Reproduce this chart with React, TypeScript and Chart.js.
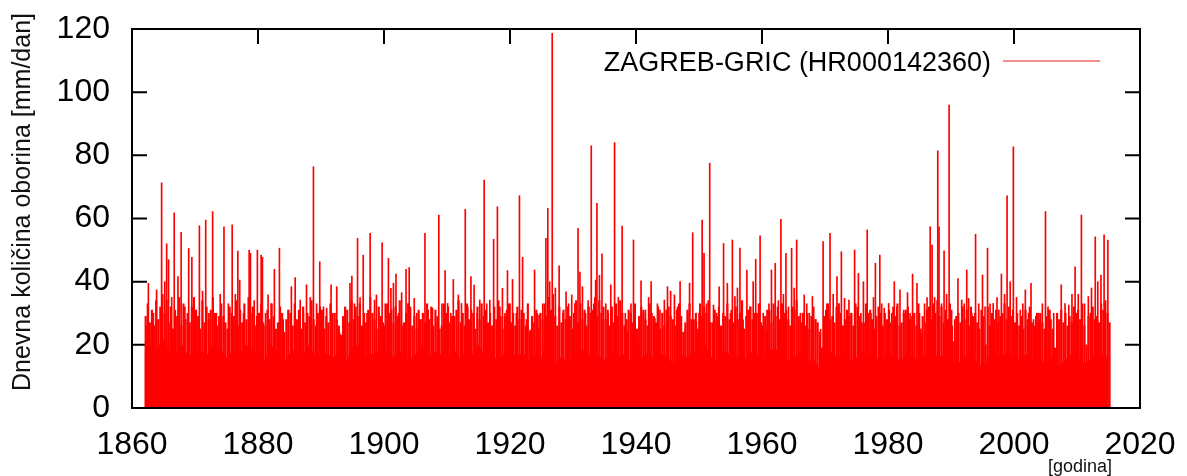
import { useEffect, useRef } from "react";
import { Chart, registerables } from "chart.js";

Chart.register(...registerables);

const seriesLabel = "ZAGREB-GRIC (HR000142360)";
const yAxisTitle = "Dnevna količina oborina [mm/dan]";
const xAxisTitle = "[godina]";
const xTickValues = [1860, 1880, 1900, 1920, 1940, 1960, 1980, 2000, 2020];
const yTickValues = [0, 20, 40, 60, 80, 100, 120];

// individual daily maxima (year position, mm/day)
const spikeYears = [
  1862.3, 1862.6, 1863.4, 1863.9, 1864.7, 1865.2, 1865.5, 1865.8, 1866.3, 1866.7,
  1867.3, 1867.8, 1868.4, 1869.0, 1869.5, 1870.2, 1870.7, 1871.2, 1871.7, 1872.2,
  1872.8, 1873.4, 1874.0, 1874.6, 1875.3, 1875.9, 1876.4, 1876.8, 1877.1, 1877.7,
  1878.6, 1878.8, 1879.4, 1879.9, 1880.5, 1880.7, 1881.2, 1881.6, 1882.1, 1882.6,
  1883.4, 1884.0, 1884.8, 1885.3, 1885.9, 1886.7, 1887.2, 1887.7, 1888.3, 1888.8,
  1889.3, 1889.8, 1890.4, 1890.9, 1891.6, 1892.5, 1893.0, 1893.8, 1894.6, 1894.9,
  1895.3, 1895.8, 1896.2, 1896.7, 1897.3, 1897.8, 1898.5, 1898.8, 1899.2, 1899.7,
  1900.2, 1900.7, 1901.1, 1901.5, 1901.9, 1902.3, 1902.8, 1903.5, 1904.0, 1904.8,
  1905.2, 1905.7, 1906.5, 1907.0, 1907.7, 1908.2, 1908.7, 1909.2, 1909.7, 1910.1,
  1910.6, 1911.0, 1911.8, 1912.3, 1912.9, 1913.3, 1913.8, 1914.3, 1914.8, 1915.2,
  1915.9, 1916.3, 1916.8, 1917.4, 1918.0, 1918.4, 1918.8, 1919.2, 1919.6, 1920.0,
  1920.4, 1921.0, 1921.5, 1922.0, 1922.6, 1923.2, 1923.9, 1924.3, 1924.6, 1925.2,
  1925.7, 1926.0, 1926.3, 1926.7, 1927.2, 1927.8, 1928.4, 1928.9, 1929.3, 1929.8,
  1930.3, 1930.8, 1931.1, 1931.5, 1932.0, 1932.4, 1932.9, 1933.3, 1933.6, 1933.8,
  1934.2, 1934.6, 1935.2, 1935.6, 1936.0, 1936.6, 1937.2, 1937.8, 1938.3, 1938.7,
  1939.2, 1939.6, 1940.3, 1940.8, 1941.2, 1941.5, 1942.0, 1942.4, 1943.0, 1943.4,
  1943.8, 1944.5, 1945.0, 1945.5, 1946.1, 1946.6, 1947.0, 1947.8, 1948.2, 1948.5,
  1949.0, 1949.6, 1950.0, 1950.5, 1950.8, 1951.2, 1951.7, 1952.3, 1952.8, 1953.2,
  1953.9, 1954.5, 1955.0, 1955.3, 1955.7, 1956.1, 1956.5, 1957.0, 1957.6, 1958.1,
  1958.6, 1959.0, 1959.7, 1960.2, 1960.7, 1961.1, 1961.5, 1962.1, 1962.6, 1963.0,
  1963.4, 1963.8, 1964.2, 1964.7, 1965.1, 1965.5, 1966.1, 1966.7, 1967.1, 1967.5,
  1968.0, 1968.5, 1969.3, 1969.7, 1970.3, 1970.8, 1971.3, 1971.9, 1972.2, 1972.6,
  1973.1, 1973.8, 1974.2, 1974.7, 1975.3, 1975.7, 1976.1, 1976.7, 1977.3, 1977.7,
  1978.0, 1978.7, 1979.0, 1979.4, 1980.1, 1980.6, 1981.0, 1981.4, 1981.9, 1982.5,
  1983.1, 1983.5, 1983.9, 1984.6, 1985.0, 1985.3, 1985.8, 1986.2, 1986.7, 1987.0,
  1987.4, 1987.9, 1988.1, 1988.5, 1988.9, 1989.3, 1989.7, 1990.1, 1990.6, 1991.1,
  1991.7, 1992.1, 1992.5, 1992.8, 1993.3, 1993.9, 1994.4, 1995.0, 1995.4, 1995.8,
  1996.2, 1996.7, 1997.3, 1997.6, 1998.0, 1998.5, 1998.9, 1999.4, 1999.9, 2000.4,
  2001.0, 2001.4, 2001.8, 2002.3, 2002.7, 2003.1, 2003.6, 2004.1, 2004.5, 2005.0,
  2005.4, 2005.7, 2006.3, 2006.9, 2007.5, 2008.1, 2008.7, 2009.2, 2009.7, 2010.2,
  2010.7, 2011.2, 2011.8, 2012.3, 2012.9, 2013.3, 2013.8, 2014.3, 2014.9,
];
const spikeValues = [
  26, 39.5, 30, 37.4, 71.3, 40, 52, 47, 35, 61.8,
  41.6, 55.6, 32, 50.5, 47.7, 28, 57.7, 37, 59.5, 30,
  62.2, 30, 36, 57.4, 33, 58, 36, 49.7, 40.5, 30,
  50, 49, 34, 50, 48.4, 47.7, 30, 35.8, 33, 43.9,
  50.6, 28, 31, 38.4, 41.3, 34.2, 30, 39, 35, 76.4,
  33, 46.3, 32, 31.6, 39, 38.4, 23.6, 31, 39.5, 41.8,
  33, 53.7, 35, 48.4, 30, 55.3, 34.2, 35.8, 30, 52.3,
  33, 47.4, 37.9, 39.5, 42.4, 30, 36.5, 43.9, 44.5, 34.7,
  30, 27.9, 55.3, 31, 31.6, 28, 61.1, 33, 43.5, 33.1,
  30, 40.7, 35.8, 33.1, 62.9, 32, 41.6, 38.9, 30, 34.2,
  72.2, 33, 34.2, 53.4, 63.7, 32, 37.9, 30, 43.5, 33,
  40.7, 30, 67.2, 47.7, 28, 24.7, 43.7, 30, 29.4, 33,
  53.7, 63.2, 40, 118.6, 38, 45, 30, 36.8, 33, 35.8,
  33.1, 56.9, 43, 38.4, 30, 34, 83, 33, 40.5, 64.8,
  42, 48.8, 33, 30, 39, 84, 35, 57.6, 30, 24.2,
  33, 53.2, 22, 40.3, 30, 31, 35, 40, 28.4, 33,
  31, 34.2, 38.4, 37, 35.8, 32, 40, 24.7, 30, 39.5,
  55.5, 27.3, 30, 59.5, 49, 33, 77.5, 32.6, 30, 38.4,
  52.1, 39.5, 30, 53.2, 35.3, 38, 50.6, 27.9, 43.7, 32,
  40, 47.1, 54.5, 30, 24.7, 33, 43.7, 45.8, 34, 59.7,
  36, 49, 32, 50.6, 38, 53.2, 30, 35.8, 33, 30,
  35.3, 28, 24.9, 52.7, 33, 55.3, 36, 41.6, 33, 49.5,
  34.7, 34.2, 30, 50, 42.6, 30, 40, 56.4, 30, 35,
  45.8, 48.4, 33, 31.6, 33.1, 30, 40, 32, 37.4, 31,
  36.5, 30, 42.4, 39.5, 30, 23.6, 33, 35, 57.4, 51.6,
  35, 81.4, 57.4, 33, 49.8, 36, 95.9, 31, 28, 41,
  34.2, 33, 43.7, 34.7, 30, 55, 33, 42.1, 32, 50.6,
  33, 33.1, 35, 31, 42.4, 36, 67.2, 40, 82.7, 35,
  31, 33, 37.4, 30, 39.5, 28, 30, 27.9, 33, 62.2,
  32, 31, 30, 26.3, 39, 33.1, 32.6, 36, 44.7, 36,
  61.1, 33, 35.3, 38, 54.2, 40, 42.1, 54.8, 53.2,
];

// dense everyday record: maxima per third of a year, from 1862 onwards
const forestStartYear = 1862;
const forestValues = [
  29, 33, 27, 31, 26, 34, 28, 32, 36, 30, 34, 27, 32, 25, 31, 29, 35, 26, 33, 28, 30, 27, 32, 35, 31, 29, 25, 34, 27, 32,
  28, 31, 35, 30, 26, 29, 33, 29, 27, 25, 32, 30, 29, 34, 26, 31, 27, 33, 28, 35, 30, 32, 26, 29, 30, 33, 27, 26, 31, 28,
  33, 29, 25, 27, 32, 30, 24, 28, 31, 30, 26, 33, 28, 31, 25, 32, 27, 30, 29, 34, 28, 26, 30, 32, 31, 25, 29, 27, 33, 30,
  30, 28, 26, 23, 29, 32, 31, 27, 34, 28, 32, 29, 33, 26, 30, 27, 31, 35, 30, 28, 25, 32, 29, 27, 26, 33, 30, 31, 27, 32,
  29, 34, 26, 27, 30, 33, 32, 26, 29, 25, 31, 28, 30, 27, 33, 28, 32, 26, 31, 29, 25, 26, 33, 30, 32, 27, 29, 29, 31, 34,
  27, 30, 26, 33, 28, 31, 30, 25, 32, 28, 33, 29, 31, 27, 30, 26, 32, 28, 34, 29, 25, 29, 31, 33, 27, 30, 26, 32, 28, 31,
  30, 26, 33, 24, 29, 27, 31, 25, 30, 28, 33, 29, 35, 31, 36, 29, 26, 32, 27, 31, 28, 32, 29, 25, 30, 34, 27, 33, 28, 31,
  26, 32, 30, 31, 35, 29, 34, 30, 32, 28, 31, 26, 32, 27, 33, 29, 34, 30, 26, 28, 31, 30, 27, 33, 25, 29, 32, 31, 28, 26,
  33, 30, 29, 27, 32, 25, 30, 26, 31, 32, 29, 28, 26, 31, 33, 29, 24, 27, 31, 33, 28, 28, 30, 25, 33, 29, 32, 30, 34, 27,
  27, 31, 29, 32, 26, 30, 29, 33, 28, 31, 27, 32, 28, 30, 34, 25, 29, 31, 32, 28, 30, 30, 33, 27, 26, 29, 31, 31, 27, 33,
  29, 32, 28, 33, 30, 31, 28, 26, 32, 31, 34, 29, 27, 30, 26, 30, 25, 29, 32, 28, 27, 24, 19, 29, 31, 33, 28, 29, 27, 32,
  33, 30, 26, 28, 31, 29, 30, 26, 33, 32, 29, 27, 27, 33, 30, 31, 28, 25, 29, 32, 30, 26, 30, 28, 31, 27, 32, 29, 33, 26,
  27, 30, 31, 32, 28, 29, 30, 26, 33, 25, 29, 27, 31, 32, 28, 33, 30, 34, 29, 32, 27, 31, 28, 33, 26, 21, 29, 30, 27, 32,
  28, 31, 26, 32, 29, 30, 27, 25, 31, 29, 20, 32, 26, 30, 28, 31, 27, 29, 30, 33, 28, 32, 29, 31, 27, 30, 26, 29, 25, 31,
  28, 32, 27, 26, 29, 30, 30, 27, 25, 29, 31, 28, 25, 19, 30, 28, 31, 27, 30, 26, 29, 27, 32, 30, 31, 28, 33, 26, 20, 29,
  30, 32, 28, 29, 27, 33, 31, 34, 30, 27,
];

// level up to which the daily record is solid red, one value per year from 1862
const floorStartYear = 1862;
const floorValues = [
  18, 20, 19, 22, 18, 17, 20, 16, 19, 18, 17, 21, 19, 16,
  18, 17, 20, 19, 16, 15, 20, 18, 14, 17, 19, 16, 20, 17, 18,
  17, 16, 18, 15, 19, 20, 16, 17, 18, 19, 16, 17, 18, 15, 17, 20,
  16, 18, 17, 15, 19, 16, 18, 17, 20, 16, 18, 15, 17, 19, 16, 18,
  15, 17, 16, 22, 14, 16, 15, 17, 19, 18, 16, 17, 15, 18, 16, 17,
  15, 17, 16, 18, 15, 17, 16, 14, 17, 16, 18, 17, 20, 16, 15, 18,
  17, 16, 15, 18, 17, 16, 18, 19, 17, 15, 16, 18, 14, 16, 13, 17,
  18, 16, 17, 15, 16, 18, 17, 16, 15, 17, 16, 15, 17, 16, 15, 17,
  18, 16, 17, 15, 14, 16, 17, 15, 13, 16, 17, 16, 18, 15, 16, 17,
  15, 16, 14, 16, 13, 15, 17, 16, 14, 15, 18, 17, 16,
];

const FONT = '"Liberation Sans", Arial, Helvetica, sans-serif';
const RED = "rgb(255,0,0)";

const framePlugin = {
  id: "gnuplotFrame",
  beforeDatasetsDraw(chart: any) {
    const { ctx, chartArea, scales } = chart;
    const { left, right, top, bottom } = chartArea;
    const L = 15;
    ctx.save();
    ctx.strokeStyle = "#000";
    ctx.lineWidth = 2;
    ctx.beginPath();
    scales.y.ticks.forEach((t: any) => {
      const py = scales.y.getPixelForValue(t.value);
      ctx.moveTo(left, py);
      ctx.lineTo(left + L, py);
      ctx.moveTo(right, py);
      ctx.lineTo(right - L, py);
    });
    scales.x.ticks.forEach((t: any) => {
      const px = scales.x.getPixelForValue(t.value);
      ctx.moveTo(px, bottom);
      ctx.lineTo(px, bottom - L);
      ctx.moveTo(px, top);
      ctx.lineTo(px, top + L);
    });
    ctx.stroke();
    ctx.restore();
  },
  afterDatasetsDraw(chart: any) {
    const { ctx, chartArea } = chart;
    const { left, right, top, bottom } = chartArea;
    ctx.save();
    ctx.strokeStyle = "#000";
    ctx.lineWidth = 2;
    ctx.strokeRect(left, top, right - left, bottom - top);
    ctx.restore();
  },
  afterDraw(chart: any) {
    const { ctx } = chart;
    ctx.save();
    // key (text then line sample, gnuplot style)
    const ds = chart.data.datasets[2];
    ctx.fillStyle = "#000";
    ctx.font = `27px ${FONT}`;
    ctx.textAlign = "right";
    ctx.textBaseline = "alphabetic";
    ctx.fillText(ds.label, 991, 71);
    ctx.strokeStyle = "rgb(232,105,105)";
    ctx.lineWidth = 1.6;
    ctx.beginPath();
    ctx.moveTo(1003, 61);
    ctx.lineTo(1100, 61);
    ctx.stroke();
    // x axis unit label
    ctx.font = `18px ${FONT}`;
    ctx.textAlign = "center";
    ctx.fillStyle = "#111";
    ctx.fillText(xAxisTitle, 1080, 472);
    // y axis title
    ctx.translate(23, 202);
    ctx.rotate(-Math.PI / 2);
    ctx.font = `25px ${FONT}`;
    ctx.textAlign = "center";
    ctx.textBaseline = "middle";
    ctx.fillStyle = "#111";
    ctx.fillText(yAxisTitle, 0, 0);
    ctx.restore();
  },
};

export default function App() {
  const canvasRef = useRef<HTMLCanvasElement | null>(null);

  useEffect(() => {
    const canvas = canvasRef.current;
    if (!canvas) return;
    const floorData = floorValues.map((v, i) => ({ x: floorStartYear + i, y: v }));
    const forestData = forestValues.map((v, i) => ({ x: forestStartYear + (i + 0.5) / 3, y: v }));
    const spikeData = spikeYears.map((yr, i) => ({ x: yr, y: spikeValues[i] }));
    const chart = new Chart(canvas, {
      type: "bar",
      data: {
        datasets: [
          {
            type: "line",
            label: seriesLabel,
            data: floorData,
            borderWidth: 0,
            pointRadius: 0,
            fill: "origin",
            backgroundColor: RED,
            borderColor: RED,
            tension: 0,
            order: 3,
          } as any,
          {
            type: "bar",
            label: seriesLabel,
            data: forestData,
            backgroundColor: RED,
            borderWidth: 0,
            barThickness: 1.5,
            grouped: false,
            order: 2,
          } as any,
          {
            type: "bar",
            label: seriesLabel,
            data: spikeData,
            backgroundColor: RED,
            borderWidth: 0,
            barThickness: 1,
            grouped: false,
            order: 1,
          } as any,
        ],
      },
      options: {
        animation: false,
        responsive: false,
        maintainAspectRatio: false,
        layout: { padding: { left: 0, top: 29, right: 47, bottom: 0 } },
        plugins: {
          legend: { display: false },
          tooltip: { enabled: false },
        },
        scales: {
          x: {
            type: "linear",
            min: xTickValues[0],
            max: xTickValues[xTickValues.length - 1],
            offset: false,
            grid: { display: false, drawTicks: true, tickLength: 18 },
            border: { display: false },
            afterBuildTicks: (s: any) => {
              s.ticks = xTickValues.map((v) => ({ value: v }));
            },
            ticks: {
              font: { family: FONT, size: 32 },
              color: "#000",
              padding: 0,
              maxRotation: 0,
              autoSkip: false,
              callback: (v: any) => String(v),
            },
            afterFit: (s: any) => {
              s.height = 68;
            },
          },
          y: {
            min: yTickValues[0],
            max: yTickValues[yTickValues.length - 1],
            grid: { display: false, drawTicks: true, tickLength: 22 },
            border: { display: false },
            afterBuildTicks: (s: any) => {
              s.ticks = yTickValues.map((v) => ({ value: v }));
            },
            ticks: {
              font: { family: FONT, size: 32 },
              color: "#000",
              padding: 0,
              callback: (v: any) => String(v),
            },
            afterFit: (s: any) => {
              s.width = 132;
            },
          },
        },
      } as any,
      plugins: [framePlugin],
    });
    return () => chart.destroy();
  }, []);

  return (
    <div style={{ position: "fixed", left: 0, top: 0, width: 1187, height: 476, background: "#fff" }}>
      <canvas ref={canvasRef} width={1187} height={476} style={{ display: "block" }} />
    </div>
  );
}
